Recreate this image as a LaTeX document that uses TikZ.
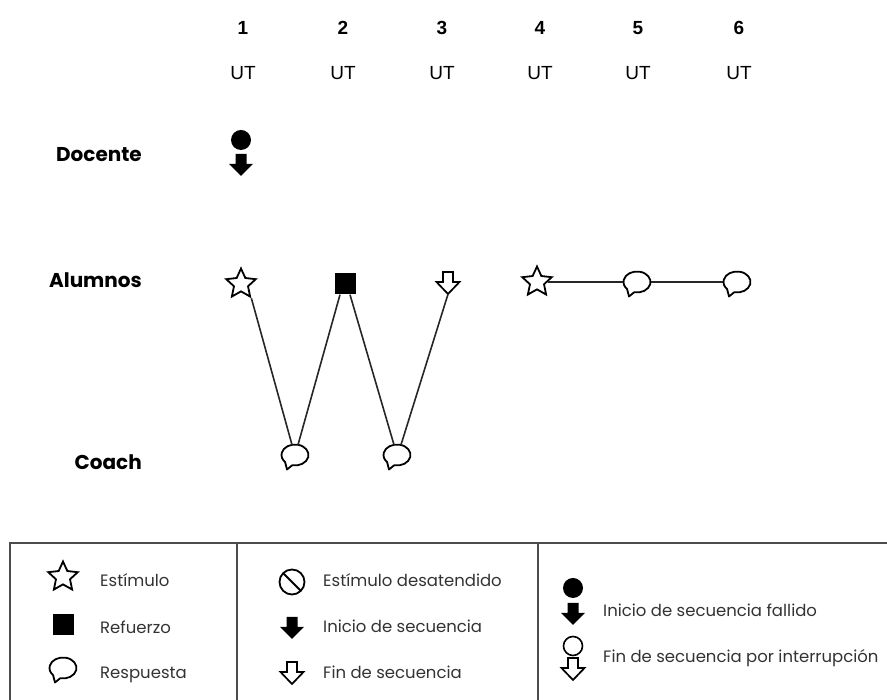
\documentclass[tikz,border=0pt]{standalone}
\usepackage{fontspec}
\setmainfont{Poppins}
\newfontfamily\numfont{Liberation Sans}
\usetikzlibrary{shapes.geometric,calc}

\tikzset{
  x=1pt, y=1pt,
  rowlabel/.style={anchor=east, inner sep=0pt, font=\fontsize{20}{24}\selectfont\bfseries},
  colnum/.style={inner sep=0pt, font=\numfont\fontsize{19}{22}\selectfont\bfseries},
  colunit/.style={inner sep=0pt, font=\numfont\fontsize{19}{22}\selectfont},
  legtext/.style={anchor=base west, inner sep=0pt, text=black!80, font=\fontsize{16.5}{19}\selectfont},
  stim/.style={star, star points=5, star point ratio=2.1, draw, line width=1.8pt,
    minimum size=31pt, inner sep=0pt, fill=white},
  refz/.style={rectangle, fill=black, minimum size=21pt, inner sep=0pt},
  dot/.style={circle, fill=black, minimum size=20pt, inner sep=0pt},
  ring/.style={circle, draw, line width=1.6pt, minimum size=19pt, inner sep=0pt},
  bslot/.style={rectangle, minimum width=28pt, minimum height=20pt, inner sep=0pt},
  aslot/.style={rectangle, minimum width=24pt, minimum height=22pt, inner sep=0pt},
  link/.style={line width=1.6pt, draw=black!85},
  frame/.style={line width=2pt, draw=black!70},
  pics/bubble/.style={code={
    \draw[line width=1.8pt, fill=white, line join=round]
      (258:13.5pt and 10.5pt) arc[start angle=258, end angle=583, x radius=13.5pt, y radius=10.5pt]
      -- (-8pt,-14.5pt) -- cycle;}},
  pics/openarrow/.style={code={
    \draw[line width=1.7pt, fill=white, line join=miter]
      (-5pt,11pt) -- (5pt,11pt) -- (5pt,1pt) -- (11.5pt,1pt) -- (0pt,-11pt)
      -- (-11.5pt,1pt) -- (-5pt,1pt) -- cycle;}},
  pics/fullarrow/.style={code={
    \fill (-5.5pt,11pt) -- (5.5pt,11pt) -- (5.5pt,1pt) -- (12pt,1pt) -- (0pt,-11pt)
      -- (-12pt,1pt) -- (-5.5pt,1pt) -- cycle;}},
  pics/nosign/.style={code={
    \draw[line width=1.8pt] (0,0) circle[radius=12.5pt];
    \draw[line width=1.8pt] (135:12.5pt) -- (315:12.5pt);}},
}

\begin{document}
\begin{tikzpicture}
\useasboundingbox (0,0) rectangle (887,700);

% column headings
\foreach \i/\cx in {1/243,2/343,3/442,4/540,5/638,6/739}{
  \node[colnum] (n\i) at (\cx,672) {\i};
  \node[colunit] (u\i) at (\cx,627) {UT};
}

% row labels
\node[rowlabel] (docente) at (142,545) {Docente};
\node[rowlabel] (alumnos) at (142,420) {Alumnos};
\node[rowlabel] (coach)   at (142,238) {Coach};

% Docente: failed start at unit 1
\node[dot] (d1) at (241,560) {};
\node[aslot] (d1a) at (241,535) {};
\pic at (d1a) {fullarrow};

% Alumnos row
\node[stim] (s1) at (241,416) {};
\node[refz] (s2) at (345,416) {};
\node[aslot] (a3) at (448,417) {};
\pic at (a3) {openarrow};
\node[stim] (s4) at (537,418) {};
\node[bslot] (b5) at (637,418) {};
\pic at (b5) {bubble};
\node[bslot] (b6) at (737,418) {};
\pic at (b6) {bubble};

% Coach row
\node[bslot] (c1) at (295,245) {};
\pic at (c1) {bubble};
\node[bslot] (c2) at (397,245) {};
\pic at (c2) {bubble};

% sequence links
\draw[link] (s1.outer point 4) -- ($(c1.north)+(-3,0)$);
\draw[link] ($(c1.north)+(3,0)$) -- ($(s2.south)+(-5,0)$);
\draw[link] ($(s2.south)+(5,0)$) -- ($(c2.north)+(-3,0)$);
\draw[link] ($(c2.north)+(4,0)$) -- (a3.south);
\draw[link] (s4) -- (b5.west);
\draw[link] (b5.east) -- (b6.west);

% legend frame
\draw[frame] (10,0) -- (10,157) -- (887,157);
\draw[frame] (237,157) -- (237,0);
\draw[frame] (538,157) -- (538,0);

% legend, first column
\node[stim] (ls) at (63,123) {};
\node[legtext] (lst) at (100,113) {Estímulo};
\node[refz] (lr) at (63,75) {};
\node[legtext] (lrt) at (100,66) {Refuerzo};
\node[bslot] (lb) at (63,32) {};
\pic at (lb) {bubble};
\node[legtext] (lbt) at (100,21) {Respuesta};

% legend, second column
\node[circle, minimum size=25pt, inner sep=0pt] (ln) at (292,118) {};
\pic at (ln) {nosign};
\node[legtext] (lnt) at (323,113) {Estímulo desatendido};
\node[aslot] (lf) at (292,72) {};
\pic at (lf) {fullarrow};
\node[legtext] (lft) at (323,67) {Inicio de secuencia};
\node[aslot] (lo) at (292,27) {};
\pic at (lo) {openarrow};
\node[legtext] (lot) at (323,21) {Fin de secuencia};

% legend, third column
\node[dot] (lfd) at (573,112) {};
\node[aslot] (lfa) at (573,86) {};
\pic at (lfa) {fullarrow};
\node[legtext] (lfat) at (603,83) {Inicio de secuencia fallido};
\node[ring] (lir) at (573,54) {};
\node[aslot] (lia) at (573,31) {};
\pic at (lia) {openarrow};
\node[legtext] (liat) at (603,37) {Fin de secuencia por interrupción};

\end{tikzpicture}
\end{document}
